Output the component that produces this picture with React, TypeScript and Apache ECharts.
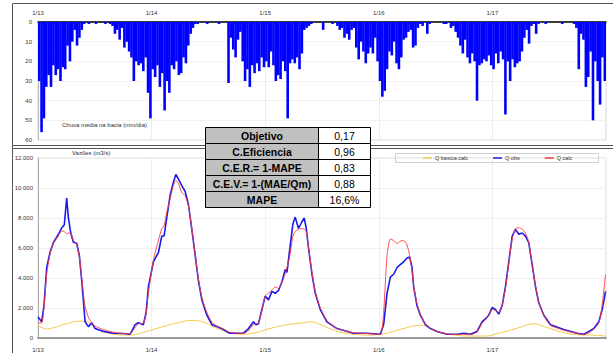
import React, { useEffect, useRef } from 'react';
import * as echarts from 'echarts';

const FONT = '"Liberation Sans", Arial, sans-serif';

const yearLabels = ['1/13', '1/14', '1/15', '1/16', '1/17'];

// weekly (1/4 month) rainfall, mm/day, Jan 2013 .. Dec 2017
const rain = [
  30, 56, 49, 33, 27, 33, 22, 27, 24, 30, 23, 24, 12, 20, 10, 4, 12, 8, 4, 1,
  0, 1, 0, 0, 1, 0, 0, 0, 1, 0,
  1, 2, 6, 4, 9, 3, 13, 10, 15, 18,
  30, 20, 22, 21, 25, 18, 36, 49, 24, 28,
  22, 33, 26, 45, 30, 36, 22, 24, 20, 27,
  26, 18, 21, 12, 6, 3, 1, 1, 0, 0,
  0, 1, 0, 0, 0, 0, 1, 0, 0, 0,
  31, 8, 14, 18, 9, 5, 20, 30, 24, 33,
  22, 26, 21, 25, 18, 23, 20, 23, 15, 22,
  30, 27, 29, 20, 25, 49, 21, 19, 21, 18,
  24, 16, 4, 3, 2, 1, 0, 0, 0, 0,
  4, 0, 0, 0, 1, 0, 2, 4, 3, 8,
  6, 9, 4, 3, 13, 19, 10, 15, 21, 16,
  13, 16, 8, 20, 30, 38, 35, 24, 15, 17,
  10, 21, 24, 18, 9, 8, 5, 4, 13, 12,
  3, 1, 2, 0, 6, 1, 0, 0, 0, 0,
  0, 1, 1, 0, 3, 2, 5, 8, 12, 16,
  9, 18, 21, 16, 20, 40, 22, 21, 19, 20,
  17, 22, 24, 16, 21, 15, 19, 47, 20, 30,
  19, 23, 21, 20, 15, 8, 4, 11, 2, 1,
  6, 1, 0, 0, 1, 0, 0, 0, 0, 0,
  0, 1, 0, 0, 0, 0, 1, 3, 24, 6,
  9, 33, 28, 15, 50, 20, 30, 42, 18, 30,
];

// [month since Jan 2013, m3/s]
const qObs = [
  [0, 1400], [0.39, 1080], [0.63, 2150], [0.92, 4700], [1.27, 5700], [1.62, 6350], [2.15, 6900], [2.51, 7350], [2.78, 7550], [3.03, 9330],
  [3.2, 8060], [3.46, 7000], [3.73, 6400], [4.09, 6300], [4.37, 5500], [4.62, 3800], [4.79, 2540], [4.97, 1080], [5.32, 760], [5.68, 1020],
  [6.03, 630], [6.9, 440], [7.96, 320], [9.02, 300], [9.73, 250], [10.26, 890], [10.6, 1020], [11.13, 890], [11.42, 1700], [11.66, 3400],
  [12.19, 5080], [12.72, 5700], [13.08, 6800], [13.32, 6800], [13.61, 8060], [13.96, 9520], [14.31, 10400], [14.56, 10900], [14.83, 10600], [15.19, 10160],
  [15.54, 9780], [15.89, 8900], [16.25, 7240], [16.6, 5520], [16.95, 3800], [17.31, 2540], [17.84, 1520], [18.37, 890], [18.89, 760], [19.59, 570],
  [20.23, 320], [21.71, 320], [22.24, 630], [22.76, 1080], [23.02, 890], [23.29, 950], [23.65, 1900], [24.0, 2790], [24.35, 2540], [24.71, 3110],
  [25.06, 2980], [25.41, 3170], [25.77, 3750], [26.12, 4570], [26.3, 4380], [26.64, 6160], [26.93, 7620], [27.17, 8060], [27.52, 7300], [27.88, 7750],
  [28.12, 8000], [28.34, 7300], [28.58, 5970], [28.94, 4250], [29.29, 2980], [29.82, 1900], [30.52, 1080], [31.58, 630], [33.34, 320], [34.75, 320],
  [36.16, 250], [36.51, 890], [36.87, 2980], [37.22, 4060], [37.57, 4250], [37.93, 4700], [38.27, 4890], [38.62, 5080], [38.98, 5330], [39.26, 5400],
  [39.51, 4700], [39.68, 3430], [40.03, 2160], [40.39, 1520], [40.92, 890], [41.45, 630], [42.15, 440], [43.21, 250], [44.27, 250], [44.97, 320],
  [45.68, 250], [46.38, 440], [46.91, 1080], [47.26, 1270], [47.61, 1520], [47.97, 2030], [48.32, 1900], [48.67, 1590], [49.03, 2160], [49.38, 3430],
  [49.73, 5080], [50.09, 6790], [50.44, 7240], [50.79, 6920], [51.15, 7000], [51.49, 6790], [51.84, 6350], [52.2, 4890], [52.55, 3430], [52.9, 2350],
  [53.43, 1520], [54.13, 890], [55.54, 570], [56.96, 320], [57.66, 250], [58.19, 440], [58.72, 630], [59.24, 1080], [59.6, 1900], [59.95, 3110],
];

const qCalc = [
  [0, 1000], [0.39, 1000], [0.63, 2000], [0.92, 4300], [1.27, 5600], [1.62, 6300], [2.15, 6800], [2.51, 7150], [2.78, 7100], [3.03, 6950],
  [3.2, 7000], [3.46, 7000], [3.73, 6500], [4.09, 6200], [4.37, 5400], [4.62, 4000], [4.79, 3000], [4.97, 2100], [5.32, 1400], [5.68, 1000],
  [6.03, 800], [6.9, 550], [7.96, 380], [9.02, 300], [9.73, 280], [10.26, 700], [10.6, 950], [11.13, 1000], [11.42, 1600], [11.66, 3000],
  [12.19, 5200], [12.72, 6500], [13.08, 7300], [13.32, 7500], [13.61, 8400], [13.96, 9300], [14.31, 10200], [14.56, 10500], [14.83, 10300], [15.19, 9700],
  [15.54, 9500], [15.89, 8800], [16.25, 7300], [16.6, 5600], [16.95, 3900], [17.31, 2700], [17.84, 1700], [18.37, 1050], [18.89, 800], [19.59, 600],
  [20.23, 380], [21.71, 300], [22.24, 500], [22.76, 900], [23.02, 950], [23.29, 1000], [23.65, 1800], [24.0, 2800], [24.35, 3000], [24.71, 3200],
  [25.06, 3400], [25.41, 3300], [25.77, 3700], [26.12, 4300], [26.3, 4700], [26.64, 5600], [26.93, 6800], [27.17, 7100], [27.52, 7250], [27.88, 7300],
  [28.12, 7250], [28.34, 7100], [28.58, 6000], [28.94, 4400], [29.29, 3100], [29.82, 2000], [30.52, 1150], [31.58, 650], [33.34, 350], [34.75, 300],
  [36.16, 230], [36.51, 1700], [36.87, 5500], [37.22, 6600], [37.57, 6500], [37.93, 6300], [38.27, 6450], [38.62, 6500], [38.98, 6200], [39.26, 5500],
  [39.51, 4500], [39.68, 3500], [40.03, 2300], [40.39, 1600], [40.92, 950], [41.45, 650], [42.15, 450], [43.21, 280], [44.27, 230], [44.97, 250],
  [45.68, 220], [46.38, 400], [46.91, 1000], [47.26, 1200], [47.61, 1500], [47.97, 1900], [48.32, 1850], [48.67, 1700], [49.03, 2200], [49.38, 3300],
  [49.73, 5000], [50.09, 6600], [50.44, 7300], [50.79, 7350], [51.15, 7250], [51.49, 7000], [51.84, 6400], [52.2, 4900], [52.55, 3500], [52.9, 2400],
  [53.43, 1500], [54.13, 850], [55.54, 520], [56.96, 300], [57.66, 220], [58.19, 350], [58.72, 600], [59.24, 1000], [59.6, 2200], [59.95, 4250],
];

const qBase = [
  [0, 850], [0.9, 600], [2, 750], [3, 950], [4.5, 1120], [5.2, 1080], [6.1, 650], [7.9, 260], [9.7, 190], [11.5, 450],
  [13.2, 760], [15, 1050], [16.1, 1170], [17.4, 1080], [18.9, 630], [20, 400], [21.3, 250], [22.8, 330], [24.5, 630], [26.3, 880],
  [28.1, 1020], [28.9, 1080], [29.8, 900], [31.6, 450], [33.3, 260], [35.1, 190], [36.9, 330], [38.6, 630], [40.3, 850], [41.3, 700],
  [42.5, 350], [44, 190], [45.6, 130], [47.3, 130], [48.7, 320], [50.5, 630], [51.7, 880], [52.4, 950], [53.5, 760], [55, 440],
  [56.5, 250], [58.5, 190], [60, 130],
];

const tableLabels = ['Objetivo', 'C.Eficiencia', 'C.E.R.= 1-MAPE', 'C.E.V.= 1-(MAE/Qm)', 'MAPE'];
const tableValues = ['0,17', '0,96', '0,83', '0,88', '16,6%'];

function fmtThousands(v: number) {
  if (v === 0) return '0';
  const k = Math.floor(v / 1000);
  const r = v % 1000;
  return `${k}.${String(r).padStart(3, '0')}`;
}

function buildTable() {
  const x0 = 205.5, x1 = 318.5, x2 = 370.5, y0 = 127.5, rh = 16;
  const els: any[] = [];
  tableLabels.forEach((lab, i) => {
    const y = y0 + i * rh;
    els.push({
      type: 'rect', z: 200,
      shape: { x: x0, y, width: x1 - x0, height: rh },
      style: { fill: '#c0c0c0', stroke: '#000', lineWidth: 1 },
    });
    els.push({
      type: 'rect', z: 200,
      shape: { x: x1, y, width: x2 - x1, height: rh },
      style: { fill: '#fff', stroke: '#000', lineWidth: 1 },
    });
    els.push({
      type: 'text', z: 201,
      x: (x0 + x1) / 2,
      y: y + rh / 2 + 0.5,
      style: { text: lab, fontFamily: FONT, fontSize: 10.5, fontWeight: 'bold', fill: '#000', align: 'center', verticalAlign: 'middle' },
    });
    els.push({
      type: 'text', z: 201,
      x: (x1 + x2) / 2,
      y: y + rh / 2 + 0.5,
      style: { text: tableValues[i], fontFamily: FONT, fontSize: 10.5, fill: '#000', align: 'center', verticalAlign: 'middle' },
    });
  });
  return els;
}

export default function App() {
  const ref = useRef<HTMLDivElement>(null);
  useEffect(() => {
    if (!ref.current) return;
    const chart = echarts.init(ref.current, null, { renderer: 'svg' });
    const axisText = { fontSize: 6, color: '#333', fontFamily: FONT };
    const option: any = {
      animation: false,
      backgroundColor: '#fff',
      textStyle: { fontFamily: FONT },
      grid: [
        { left: 38, right: 7, top: 22, height: 118, show: true, borderColor: '#d6d6d6', borderWidth: 1 },
        { left: 38, right: 7, top: 158, bottom: 6, show: true, borderColor: '#dcdcdc', borderWidth: 1 },
      ],
      xAxis: [
        { type: 'category', gridIndex: 0, data: rain.map((_, i) => i), show: false, position: 'bottom' },
        {
          type: 'value', gridIndex: 0, position: 'top', min: 0, max: 60, interval: 12,
          axisLine: { show: true, lineStyle: { color: '#000', width: 1.5 } },
          axisTick: { show: false },
          axisLabel: { ...axisText, margin: 6, formatter: (v: number) => yearLabels[v / 12] ?? '' },
          splitLine: { show: true, lineStyle: { color: '#ececec', width: 1 } },
        },
        {
          type: 'value', gridIndex: 1, position: 'bottom', min: 0, max: 60, interval: 12,
          axisLine: { show: true, lineStyle: { color: '#999', width: 2 } },
          axisTick: { show: false },
          axisLabel: { ...axisText, margin: 9, formatter: (v: number) => yearLabels[v / 12] ?? '' },
          splitLine: { show: true, lineStyle: { color: '#f0f0f0', width: 1 } },
        },
      ],
      yAxis: [
        {
          type: 'value', gridIndex: 0, inverse: true, min: 0, max: 60, interval: 10,
          axisLine: { show: true, lineStyle: { color: '#bbb' } },
          axisTick: { show: false },
          axisLabel: { ...axisText, margin: 6 },
          splitLine: { show: true, lineStyle: { color: '#f2f2f2' } },
        },
        {
          type: 'value', gridIndex: 1, min: 0, max: 12000, interval: 2000,
          axisLine: { show: true, lineStyle: { color: '#aaa', width: 1 } },
          axisTick: { show: false },
          axisLabel: { ...axisText, margin: 5, formatter: (v: number) => fmtThousands(v) },
          splitLine: { show: true, lineStyle: { color: '#f0f0f0' } },
        },
      ],
      legend: {
        left: 423, top: 155, padding: 0, itemWidth: 9, itemHeight: 1.5, itemGap: 25, icon: 'rect',
        textStyle: { fontSize: 5.5, color: '#333', fontFamily: FONT, padding: [0, 0, 0, -2] },
        data: ['Q basica calc', 'Q obs', 'Q calc'],
      },
      series: [
        {
          type: 'bar', name: 'Chuva', xAxisIndex: 0, yAxisIndex: 0, data: rain,
          barWidth: 2.6, itemStyle: { color: '#0000ff' }, silent: true,
        },
        {
          type: 'line', name: 'Q basica calc', xAxisIndex: 2, yAxisIndex: 1, data: qBase, showSymbol: false, smooth: 0.4,
          lineStyle: { color: '#f3c94f', width: 1 }, itemStyle: { color: '#f3c94f' },
        },
        {
          type: 'line', name: 'Q obs', xAxisIndex: 2, yAxisIndex: 1, data: qObs, showSymbol: false,
          lineStyle: { color: '#1a1aee', width: 1.6 }, itemStyle: { color: '#1a1aee' },
        },
        {
          type: 'line', name: 'Q calc', xAxisIndex: 2, yAxisIndex: 1, data: qCalc, showSymbol: false, smooth: 0.2,
          lineStyle: { color: '#ff3b3b', width: 0.9 }, itemStyle: { color: '#ff3b3b' },
        },
      ],
      graphic: [
        { type: 'line', z: 90, shape: { x1: 12.5, y1: 3.5, x2: 613, y2: 3.5 }, style: { stroke: '#555', lineWidth: 1 } },
        { type: 'line', z: 90, shape: { x1: 12.5, y1: 3.5, x2: 12.5, y2: 353 }, style: { stroke: '#555', lineWidth: 1 } },
        { type: 'line', z: 90, shape: { x1: 12.5, y1: 145.5, x2: 613, y2: 145.5 }, style: { stroke: '#555', lineWidth: 1 } },
        { type: 'line', z: 90, shape: { x1: 12.5, y1: 148.5, x2: 613, y2: 148.5 }, style: { stroke: '#555', lineWidth: 1 } },
        { type: 'rect', z: 90, shape: { x: 395.5, y: 153.5, width: 203, height: 9 }, style: { fill: 'none', stroke: '#cfcfcf', lineWidth: 1 } },
        { type: 'text', z: 90, x: 62, y: 122, style: { text: 'Chuva média na bacia (mm/dia)', fontFamily: FONT, fontSize: 6, fill: '#333' } },
        { type: 'text', z: 90, x: 72, y: 150, style: { text: 'Vazões (m3/s)', fontFamily: FONT, fontSize: 6, fill: '#333' } },
        ...buildTable(),
      ],
    };
    chart.setOption(option);
    return () => chart.dispose();
  }, []);
  return <div ref={ref} style={{ position: 'fixed', left: 0, top: 0, width: 613, height: 353, background: '#fff' }} />;
}
